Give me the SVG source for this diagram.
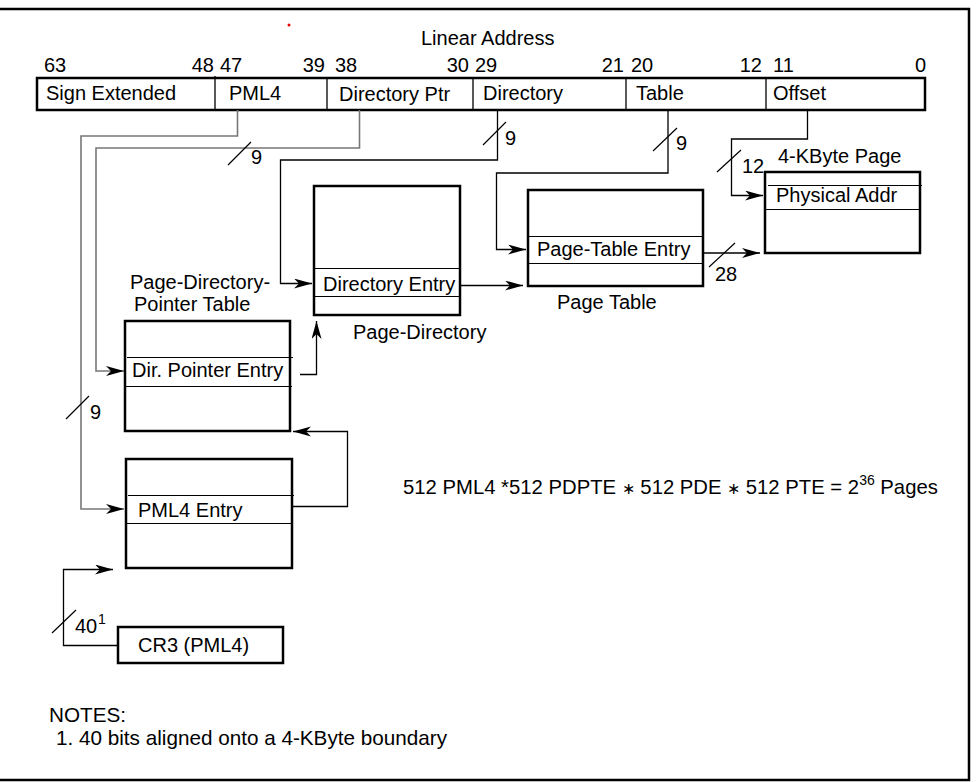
<svg xmlns="http://www.w3.org/2000/svg" width="977" height="782" viewBox="0 0 977 782">
<defs>
<marker id="arr" markerUnits="userSpaceOnUse" markerWidth="20" markerHeight="12" refX="18" refY="5" orient="auto">
<path d="M0,0 L18,5 L0,10 L5,5 z" fill="#000"/>
</marker>
<style>
text{font-family:"Liberation Sans",Arial,sans-serif;font-size:20px;fill:#000}
.box{fill:none;stroke:#000;stroke-width:2.5}
.in{stroke:#000;stroke-width:1.2}
.c{fill:none;stroke:#000;stroke-width:1.3}
.g{fill:none;stroke:#777;stroke-width:1.6}
.sl{stroke:#000;stroke-width:1.2}
.n{font-size:20.7px}
</style>
</defs>
<rect width="977" height="782" fill="#fff"/>
<g id="frame">
<path d="M0,9 H969 V780 H0" fill="none" stroke="#000" stroke-width="2.5"/>
<circle cx="289" cy="25" r="1.5" fill="#e00"/>
</g>
<g id="linear-address">
<text x="421" y="45">Linear Address</text>
<text x="44" y="72">63</text>
<text x="214" y="72" text-anchor="end">48</text>
<text x="220" y="72">47</text>
<text x="325" y="72" text-anchor="end">39</text>
<text x="335" y="72">38</text>
<text x="469" y="72" text-anchor="end">30</text>
<text x="475" y="72">29</text>
<text x="624" y="72" text-anchor="end">21</text>
<text x="631" y="72">20</text>
<text x="762" y="72" text-anchor="end">12</text>
<text x="773" y="72">11</text>
<text x="926" y="72" text-anchor="end">0</text>
<rect class="box" x="37" y="78" width="888" height="32"/>
<path d="M215,76 V110 M327,78 V110 M473,78 V110 M626,78 V110 M766,78 V110" stroke="#000" stroke-width="1.3"/>
<text x="46" y="100">Sign Extended</text>
<text x="229" y="100">PML4</text>
<text x="339" y="101">Directory Ptr</text>
<text x="483" y="100">Directory</text>
<text x="636" y="100">Table</text>
<text x="773" y="100">Offset</text>
</g>
<g id="connectors">
<path class="g" d="M237.5,110 V136 H81 V509 H124" marker-end="url(#arr)"/>
<path class="g" d="M359.5,110 V148 H96 V371 H124" marker-end="url(#arr)"/>
<path class="c" d="M497.5,110 V160 H280.5 V283.5 H312" marker-end="url(#arr)"/>
<path class="c" d="M668,110 V173 H496.5 V249.5 H526" marker-end="url(#arr)"/>
<path class="c" d="M807.5,110 V139 H731.5 V195.5 H763" marker-end="url(#arr)"/>
<path class="c" d="M703,253 H760" marker-end="url(#arr)"/>
<path class="c" d="M460,285.5 H523" marker-end="url(#arr)"/>
<path class="c" d="M300,374.5 H316.5 V321" marker-end="url(#arr)"/>
<path class="c" d="M292,506.5 H347.5 V431.5 H293" marker-end="url(#arr)"/>
<path class="c" d="M118,645.5 H63.5 V569.5 H113" marker-end="url(#arr)"/>
<path class="sl" d="M228,165 L251,142 M483,145 L506,122 M653,151 L677,128 M717,172 L741,150 M709,267 L735,243 M66,419 L89,396 M52,633 L76,610"/>
<text x="251" y="164">9</text>
<text x="505" y="145">9</text>
<text x="676" y="150">9</text>
<text x="742" y="173">12</text>
<text x="715" y="281">28</text>
<text x="90" y="419">9</text>
<text x="75" y="633">40</text>
<text x="98" y="624" style="font-size:14px">1</text>
</g>
<g id="page-4k">
<text x="778" y="163">4-KByte Page</text>
<rect class="box" x="765" y="172" width="155" height="81"/>
<path class="in" d="M768,185.5 H922 M765,209.5 H920"/>
<text x="776" y="202">Physical Addr</text>
</g>
<g id="page-table">
<rect class="box" x="528" y="190" width="175" height="96"/>
<path class="in" d="M528,236.5 H703 M528,263.5 H703"/>
<text x="537" y="256">Page-Table Entry</text>
<text x="557" y="309">Page Table</text>
</g>
<g id="page-directory">
<rect class="box" x="314" y="186" width="146" height="129"/>
<path class="in" d="M314,268.5 H460 M314,296.5 H460"/>
<text x="323" y="291">Directory Entry</text>
<text x="353" y="339">Page-Directory</text>
</g>
<g id="pdpt">
<text x="130" y="289">Page-Directory-</text>
<text x="134" y="311">Pointer Table</text>
<rect class="box" x="125" y="321" width="165" height="110"/>
<path class="in" d="M127,357.5 H293 M125,386.5 H292"/>
<text x="132" y="377">Dir. Pointer Entry</text>
</g>
<g id="pml4">
<rect class="box" x="126" y="459" width="166" height="109"/>
<path class="in" d="M128,495.5 H294 M126,523.5 H292"/>
<text x="138" y="517">PML4 Entry</text>
</g>
<g id="cr3">
<rect class="box" x="118" y="627" width="165" height="36"/>
<text x="138" y="652">CR3 (PML4)</text>
</g>
<g id="formula">
<text x="403" y="494" style="font-size:20.3px">512 PML4 *512 PDPTE <tspan style="font-size:16px">∗</tspan> 512 PDE <tspan style="font-size:16px">∗</tspan> 512 PTE = 2<tspan style="font-size:14px" dy="-9">36</tspan><tspan dy="9"> Pages</tspan></text>
</g>
<g id="notes">
<text class="n" x="49" y="722">NOTES:</text>
<text class="n" x="56" y="745">1. 40 bits aligned onto a 4-KByte boundary</text>
</g>
</svg>
